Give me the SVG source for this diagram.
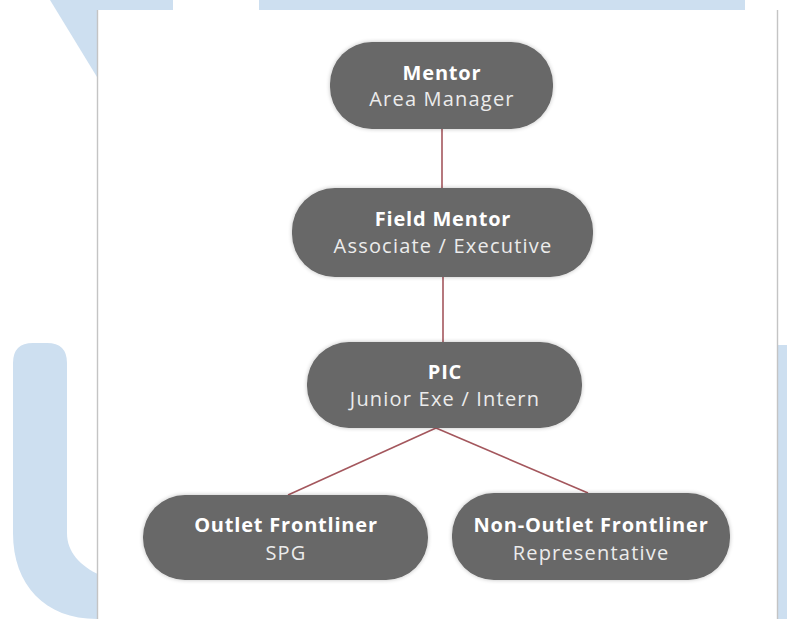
<svg xmlns="http://www.w3.org/2000/svg" width="787" height="619" viewBox="0 0 787 619">
  <style>
    .wm { fill: #cddff0; }
    .panel { fill: #ffffff; }
    .edge { stroke: #c4c4c4; stroke-width: 1.4; }
    .box { fill: #676767; filter: url(#soft); }
    .t1 { font-family: "Open Sans", "Liberation Sans", sans-serif; font-size: 20px; font-weight: 700; fill: #ffffff; letter-spacing: 0.8px; text-anchor: middle; }
    .t2 { font-family: "Open Sans", "Liberation Sans", sans-serif; font-size: 20px; font-weight: 400; fill: #ececec; letter-spacing: 1.2px; text-anchor: middle; }
    .link { stroke: #a4575d; stroke-width: 1.6; fill: none; }
  </style>
  <defs>
    <filter id="soft" x="-10%" y="-20%" width="120%" height="140%">
      <feGaussianBlur in="SourceAlpha" stdDeviation="2"/>
      <feComponentTransfer><feFuncA type="linear" slope="0.25"/></feComponentTransfer>
      <feMerge><feMergeNode/><feMergeNode in="SourceGraphic"/></feMerge>
    </filter>
  </defs>

  <rect x="0" y="0" width="787" height="619" fill="#ffffff"/>

  <!-- watermark shapes -->
  <g id="watermark">
    <polygon class="wm" points="50,0 173,0 173,20 97,77"/>
    <rect class="wm" x="259" y="0" width="486" height="11"/>
    <path class="wm" d="M13,533 L13,363 Q13,343 33,343 L47,343 Q67,343 67,363 L67,533 C67,552 80,566 100,575 L100,619 L97,619 C45,619 13,585 13,533 Z"/>
    <rect class="wm" x="778" y="345" width="9" height="274"/>
  </g>

  <!-- page panel -->
  <rect class="panel" x="97" y="10" width="681" height="609"/>
  <line class="edge" x1="97.5" y1="10" x2="97.5" y2="619"/>
  <line class="edge" x1="777.5" y1="10" x2="777.5" y2="619"/>

  <g id="connectors">
    <line class="link" x1="442" y1="129" x2="442" y2="188"/>
    <line class="link" x1="443" y1="277" x2="443" y2="342"/>
    <line class="link" x1="436" y1="428" x2="288" y2="495"/>
    <line class="link" x1="436" y1="428" x2="588" y2="493"/>
  </g>

  <g id="mentor">
    <rect class="box" x="330" y="42" width="223" height="87" rx="42" ry="42"/>
    <text class="t1" x="442" y="80">Mentor</text>
    <text class="t2" x="442" y="106">Area Manager</text>
  </g>

  <g id="field-mentor">
    <rect class="box" x="292" y="188" width="301" height="89" rx="43" ry="43"/>
    <text class="t1" x="443" y="226">Field Mentor</text>
    <text class="t2" x="443" y="253">Associate / Executive</text>
  </g>

  <g id="pic">
    <rect class="box" x="307" y="342" width="275" height="86" rx="42" ry="42"/>
    <text class="t1" x="445" y="379">PIC</text>
    <text class="t2" x="445" y="406">Junior Exe / Intern</text>
  </g>

  <g id="outlet-frontliner">
    <rect class="box" x="143" y="495" width="285" height="85" rx="42" ry="42"/>
    <text class="t1" x="286" y="532">Outlet Frontliner</text>
    <text class="t2" x="286" y="560">SPG</text>
  </g>

  <g id="non-outlet-frontliner">
    <rect class="box" x="452" y="493" width="278" height="87" rx="42" ry="42"/>
    <text class="t1" x="591" y="532">Non-Outlet Frontliner</text>
    <text class="t2" x="591" y="560">Representative</text>
  </g>
</svg>
